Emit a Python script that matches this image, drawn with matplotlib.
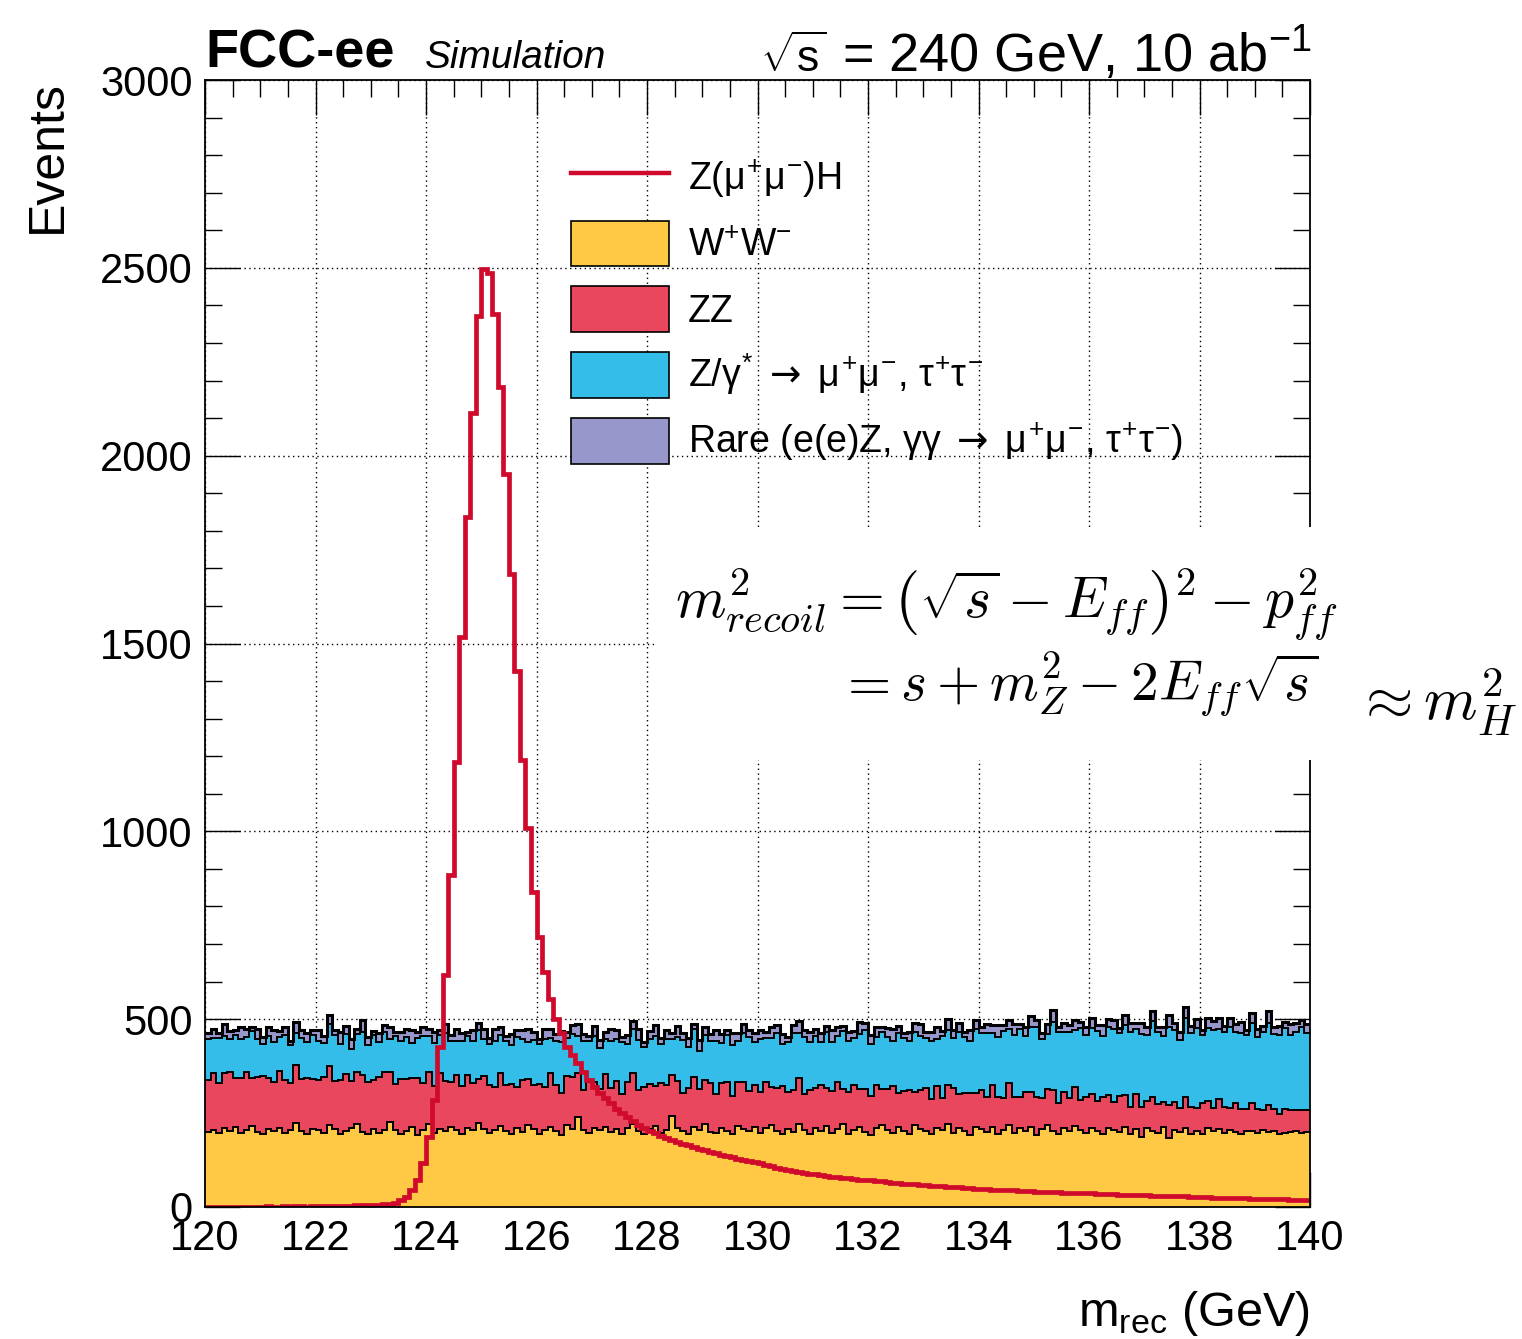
import numpy as np
import matplotlib
matplotlib.use('Agg')
import matplotlib.pyplot as plt
from matplotlib.patches import Patch, Rectangle
from matplotlib.lines import Line2D
from matplotlib.ticker import MultipleLocator

plt.rcParams['font.family'] = ['Liberation Sans', 'DejaVu Sans']
plt.rcParams['mathtext.fontset'] = 'custom'
plt.rcParams['mathtext.rm'] = 'Liberation Sans'
plt.rcParams['mathtext.it'] = 'Liberation Sans'
plt.rcParams['mathtext.bf'] = 'Liberation Sans:bold'
plt.rcParams['mathtext.sf'] = 'DejaVu Sans'

# m_rec range, 200 bins of 0.1 GeV
x_lo, x_hi, n_bins = 120.0, 140.0, 200

# Z(mumu)H signal, events per bin
signal = [
    0, 1, 0, 1, 1, 1, 0, 1, 1, 1, 1, 2, 1, 1, 2, 1, 2, 2, 1, 2,
    2, 2, 3, 3, 2, 3, 3, 4, 4, 5, 5, 6, 7, 8, 10, 19, 27, 45, 72, 116,
    187, 285, 427, 617, 884, 1185, 1518, 1837, 2113, 2372, 2498, 2487, 2376, 2183, 1951, 1685, 1428, 1190, 1008, 839,
    719, 626, 555, 500, 463, 427, 405, 382, 360, 338, 320, 303, 290, 276, 262, 250, 239, 229, 219, 210,
    202, 196, 190, 184, 179, 174, 169, 164, 160, 155, 151, 147, 143, 139, 136, 132, 129, 126, 122, 119,
    116, 112, 108, 105, 102, 99, 95, 93, 91, 89, 87, 85, 82, 80, 79, 77, 76, 74, 73, 72,
    71, 69, 68, 66, 65, 63, 62, 61, 60, 59, 58, 57, 56, 55, 54, 53, 52, 51, 50, 49,
    48, 47, 46, 46, 45, 44, 44, 43, 42, 42, 41, 40, 40, 39, 39, 38, 38, 37, 37, 36,
    36, 35, 35, 34, 34, 33, 33, 32, 32, 31, 31, 30, 30, 29, 29, 28, 28, 28, 27, 27,
    26, 26, 25, 25, 24, 24, 24, 23, 23, 22, 22, 21, 21, 21, 20, 20, 19, 19, 18, 18,
]

# W+W- background
ww = [
    200, 205, 196, 209, 202, 212, 197, 205, 216, 200, 193, 207, 203, 211, 197, 204, 224, 202, 195, 208,
    204, 197, 217, 207, 194, 202, 211, 222, 200, 193, 207, 197, 204, 226, 206, 194, 202, 213, 191, 205,
    220, 198, 207, 202, 214, 205, 193, 211, 204, 224, 208, 197, 205, 216, 202, 193, 209, 200, 219, 207,
    193, 205, 214, 202, 191, 218, 207, 240, 205, 197, 209, 204, 214, 200, 207, 193, 211, 221, 202, 195,
    207, 216, 197, 205, 242, 209, 202, 195, 212, 205, 220, 200, 197, 211, 203, 195, 216, 207, 202, 212,
    197, 209, 217, 201, 193, 207, 200, 222, 205, 195, 211, 202, 216, 197, 207, 220, 195, 205, 213, 200,
    192, 209, 219, 205, 197, 214, 203, 193, 217, 207, 202, 195, 211, 205, 222, 197, 209, 202, 191, 214,
    207, 200, 213, 195, 205, 219, 197, 209, 202, 213, 191, 207, 217, 203, 195, 209, 202, 216, 205, 197,
    209, 202, 193, 211, 205, 200, 214, 195, 207, 186, 211, 202, 197, 213, 183, 205, 200, 209, 195, 203,
    193, 211, 202, 207, 197, 205, 200, 195, 203, 202, 197, 205, 200, 202, 195, 197, 200, 202, 197, 200,
]

# ZZ background
zz = [
    138, 152, 134, 149, 157, 131, 146, 154, 128, 147, 156, 136, 130, 151, 141, 127, 155, 139, 148, 133,
    135, 150, 158, 129, 144, 153, 124, 137, 151, 140, 131, 148, 156, 133, 122, 147, 138, 130, 152, 126,
    139, 124, 150, 133, 118, 146, 129, 140, 125, 116, 142, 128, 114, 141, 122, 135, 110, 137, 121, 117,
    134, 115, 143, 122, 112, 130, 139, 118, 106, 136, 124, 111, 140, 117, 128, 108, 121, 137, 110, 125,
    120, 106, 133, 119, 109, 127, 102, 122, 135, 108, 117, 129, 104, 120, 131, 101, 116, 127, 106, 113,
    109, 124, 103, 116, 128, 99, 112, 121, 96, 117, 106, 123, 100, 113, 127, 94, 111, 120, 101, 115,
    103, 116, 95, 110, 124, 90, 107, 118, 88, 105, 115, 93, 110, 86, 104, 119, 91, 102, 113, 89,
    104, 92, 113, 97, 86, 110, 96, 84, 104, 92, 101, 83, 97, 109, 81, 96, 87, 104, 79, 95,
    93, 79, 99, 88, 74, 96, 83, 71, 94, 81, 70, 90, 78, 66, 89, 75, 64, 85, 72, 61,
    84, 70, 62, 81, 68, 59, 77, 65, 57, 74, 63, 54, 72, 60, 52, 64, 58, 55, 62, 59,
]

# Z/gamma* -> mumu, tautau
zgamma = [
    108, 92, 121, 98, 88, 115, 103, 94, 124, 99, 86, 112, 105, 91, 119, 100, 84, 110, 97, 117,
    104, 90, 113, 122, 95, 106, 85, 101, 116, 97, 121, 93, 107, 89, 126, 100, 113, 94, 108, 124,
    96, 115, 102, 128, 109, 90, 120, 103, 114, 131, 97, 110, 124, 100, 118, 104, 134, 111, 99, 121,
    108, 127, 94, 119, 135, 103, 115, 98, 130, 109, 122, 107, 93, 126, 112, 137, 101, 117, 132, 106,
    120, 134, 104, 124, 96, 116, 140, 108, 127, 102, 121, 113, 141, 106, 123, 136, 111, 128, 145, 115,
    142, 118, 129, 147, 113, 133, 150, 121, 152, 126, 138, 115, 151, 130, 122, 154, 135, 124, 146, 157,
    140, 127, 151, 137, 121, 158, 141, 130, 162, 144, 133, 155, 126, 163, 146, 134, 167, 149, 138, 170,
    152, 170, 138, 161, 178, 145, 166, 182, 150, 173, 186, 156, 147, 180, 189, 160, 176, 151, 192, 165,
    175, 188, 162, 181, 196, 168, 187, 201, 172, 193, 178, 204, 190, 176, 208, 192, 181, 210, 195, 213,
    180, 196, 208, 185, 200, 214, 190, 204, 197, 215, 193, 207, 219, 198, 211, 216, 200, 210, 221, 203,
]

# rare: e(e)Z, gamma gamma -> mumu, tautau
rare = [
    16, 26, 11, 30, 21, 14, 33, 22, 12, 28, 18, 25, 32, 15, 22, 12, 29, 20, 24, 14,
    28, 17, 22, 12, 32, 20, 26, 15, 30, 22, 10, 24, 18, 31, 13, 26, 20, 34, 15, 23,
    20, 30, 13, 24, 17, 32, 22, 11, 28, 20, 26, 15, 31, 22, 13, 28, 18, 24, 34, 20,
    12, 26, 22, 17, 30, 15, 24, 32, 20, 13, 28, 22, 18, 31, 24, 15, 26, 20, 30, 14,
    22, 28, 17, 24, 15, 31, 20, 26, 13, 30, 22, 18, 28, 24, 15, 32, 20, 26, 17, 22,
    24, 15, 30, 20, 26, 13, 22, 31, 17, 28, 20, 24, 15, 30, 22, 13, 26, 20, 32, 17,
    22, 28, 15, 24, 31, 20, 13, 26, 22, 30, 17, 24, 33, 15, 28, 20, 22, 13, 30, 24,
    17, 26, 20, 31, 15, 24, 28, 13, 22, 30, 20, 17, 26, 32, 15, 24, 20, 28, 17, 22,
    26, 15, 30, 20, 24, 13, 28, 22, 17, 31, 20, 26, 15, 24, 30, 17, 22, 28, 20, 24,
    15, 26, 22, 30, 17, 24, 20, 28, 13, 26, 22, 17, 30, 20, 24, 15, 28, 22, 17, 26,
]

arrow = r'$\mathsf{\rightarrow}$'
labels = [r'Z($\mu^{+}\mu^{-}$)H',
          r'W$^{+}$W$^{-}$',
          'ZZ',
          r'Z/$\gamma^{*}$ ' + arrow + r' $\mu^{+}\mu^{-}$, $\tau^{+}\tau^{-}$',
          r'Rare (e(e)Z, $\gamma\gamma$ ' + arrow + r' $\mu^{+}\mu^{-}$, $\tau^{+}\tau^{-}$)']

c_sig = '#cf0a2c'
c_ww = '#ffc845'
c_zz = '#e9475e'
c_zg = '#33bde8'
c_rare = '#9897cb'

edges = np.linspace(x_lo, x_hi, n_bins + 1)
s1 = np.array(ww)
s2 = s1 + np.array(zz)
s3 = s2 + np.array(zgamma)
s4 = s3 + np.array(rare)

W, H = 1522, 1339
fig = plt.figure(figsize=(W / 100, H / 100), dpi=100)
ax = fig.add_axes([205 / W, 1 - 1207 / H, 1105 / W, 1127 / H])

ax.stairs(s1, edges, baseline=0, fill=True, color=c_ww, zorder=2)
ax.stairs(s2, edges, baseline=s1, fill=True, color=c_zz, zorder=2)
ax.stairs(s3, edges, baseline=s2, fill=True, color=c_zg, zorder=2)
ax.stairs(s4, edges, baseline=s3, fill=True, color=c_rare, zorder=2)
for top in (s1, s2, s3):
    ax.stairs(top, edges, baseline=None, color='black', lw=1.4, zorder=3)
ax.stairs(s4, edges, baseline=None, color='black', lw=2.2, zorder=3)
ax.stairs(signal, edges, baseline=None, color=c_sig, lw=3.4, zorder=4)

ax.set_xlim(x_lo, x_hi)
ax.set_ylim(0, 3000)
ax.xaxis.set_major_locator(MultipleLocator(2))
ax.xaxis.set_minor_locator(MultipleLocator(0.5))
ax.yaxis.set_major_locator(MultipleLocator(500))
ax.yaxis.set_minor_locator(MultipleLocator(100))
ax.tick_params(which='both', direction='in', top=True, right=True, width=1.0, labelsize=30)
ax.tick_params(which='major', length=25)
ax.tick_params(which='minor', length=12.5)
ax.tick_params(axis='x', pad=9)
ax.tick_params(axis='y', pad=9)
ax.set_axisbelow(True)
ax.grid(True, which='major', color='black', ls=(0, (1, 2.5)), lw=1.0, zorder=1)
for sp in ax.spines.values():
    sp.set_linewidth(1.3)
    sp.set_zorder(5)

handles = [Line2D([], [], color=c_sig, lw=3.2),
           Patch(facecolor=c_ww, edgecolor='black', lw=1.2),
           Patch(facecolor=c_zz, edgecolor='black', lw=1.2),
           Patch(facecolor=c_zg, edgecolor='black', lw=1.2),
           Patch(facecolor=c_rare, edgecolor='black', lw=1.2)]
ax.legend(handles, labels, loc='upper left', bbox_to_anchor=(571 / W, 1 - 155 / H),
          bbox_transform=fig.transFigure, frameon=False, fontsize=27,
          handlelength=2.6, handleheight=1.5, handletextpad=0.52,
          labelspacing=0.53, borderpad=0, borderaxespad=0)

# header
fig.text(205 / W, 1 - 68 / H, 'FCC-ee', fontsize=39, fontweight='bold', va='baseline')
fig.text(425 / W, 1 - 68 / H, 'Simulation', fontsize=28, style='italic', va='baseline')
fig.text(1312 / W, 1 - 72 / H, r'= 240 GeV, 10 ab$^{-1}$', fontsize=39,
         ha='right', va='baseline')
fig.text(760 / W, 1 - 72 / H, r'$\sqrt{s}$', fontsize=32, va='baseline')

fig.text(48 / W, 1 - 80 / H, 'Events', fontsize=36, rotation=90, ha='center', va='top')
fig.text(1310 / W, 1 - 1326 / H, r'm$_{\mathregular{rec}}$ (GeV)', fontsize=35,
         ha='right', va='baseline')

# pasted formula box
fig.add_artist(Rectangle((655 / W, 1 - 760 / H), 1 - 655 / W, (760 - 527) / H,
                         transform=fig.transFigure, facecolor='white', edgecolor='none', zorder=5))
fig.text(675 / W, 1 - 617 / H,
         r'$m^2_{recoil} = \left(\sqrt{s} - E_{ff}\right)^2 - p^2_{ff}$',
         fontsize=41.5, math_fontfamily='cm', va='baseline', zorder=6)
fig.text(838 / W, 1 - 700 / H, r'$= s + m^2_Z - 2E_{ff}\sqrt{s}$',
         fontsize=40, math_fontfamily='cm', va='baseline', zorder=6)
fig.text(1355 / W, 1 - 720 / H, r'$\approx m^2_H$',
         fontsize=44, math_fontfamily='cm', va='baseline', zorder=6)

fig.savefig('out.png', dpi=100)
